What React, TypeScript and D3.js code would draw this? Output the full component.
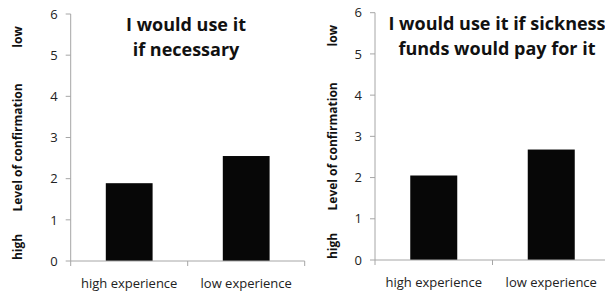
import React from "react";
import * as d3 from "d3";

const categories = ["high experience", "low experience"];
const necessaryValues = [1.89, 2.55];
const sicknessValues = [2.05, 2.68];
const yTicks = [0, 1, 2, 3, 4, 5, 6];
const titleNecessary = ["I would use it", "if necessary"];
const titleSickness = ["I would use it if sickness", "funds would pay for it"];

const FONT = "'Open Sans', 'Liberation Sans', sans-serif";

type PanelProps = {
  values: number[];
  title: string[];
  x0: number;
  x1: number;
  yBottom: number;
  yTop: number;
  labelX: number;
  titleX: number;
};

function Panel({ values, title, x0, x1, yBottom, yTop, labelX, titleX }: PanelProps) {
  const y = d3.scaleLinear().domain([0, 6]).range([yBottom, yTop]);
  const x = d3.scaleBand<string>().domain(categories).range([x0, x1]).paddingInner(0.6).paddingOuter(0.3);
  const axisColor = "#a6a6a6";
  const band = (x1 - x0) / categories.length;
  return (
    <g>
      {categories.map((c, i) => (
        <rect key={c} x={x(c)} y={y(values[i])} width={x.bandwidth()} height={y(0) - y(values[i])} fill="#070707" />
      ))}
      <line x1={x0} x2={x0} y1={y(0)} y2={y(6)} stroke={axisColor} strokeWidth={1} />
      <line x1={x0} x2={x1} y1={y(0)} y2={y(0)} stroke={axisColor} strokeWidth={1} />
      {yTicks.map((t) => (
        <g key={t}>
          <line x1={x0 - 5} x2={x0} y1={y(t)} y2={y(t)} stroke={axisColor} />
          <text x={x0 - 13} y={y(t)} dy="0.36em" textAnchor="end" fontSize={13} fill="#222" fontFamily={FONT}>
            {t}
          </text>
        </g>
      ))}
      {[0, 1, 2].map((k) => (
        <line key={k} x1={x0 + k * band} x2={x0 + k * band} y1={y(0)} y2={y(0) + 5} stroke={axisColor} />
      ))}
      {categories.map((c) => (
        <text key={c} x={(x(c) as number) + x.bandwidth() / 2} y={yBottom + 27} textAnchor="middle" fontSize={13} fill="#222" fontFamily={FONT}>
          {c}
        </text>
      ))}
      <g transform={`translate(${labelX},0) rotate(-90)`}>
        <text x={-(yTop + 23)} y={0} dy="0.35em" textAnchor="middle" fontSize={12} fontWeight="bold" fill="#111" fontFamily={FONT}>low</text>
        <text x={-(yBottom + yTop) / 2 - 10} y={0} dy="0.35em" textAnchor="middle" fontSize={12} fontWeight="bold" fill="#111" fontFamily={FONT}>Level of confirmation</text>
        <text x={-(yBottom - 14)} y={0} dy="0.35em" textAnchor="middle" fontSize={12} fontWeight="bold" fill="#111" fontFamily={FONT}>high</text>
      </g>
      {title.map((t, i) => (
        <text key={i} x={titleX} y={yTop + 17 + i * 25} textAnchor="middle" fontSize={18} fontWeight="bold" fill="#111" fontFamily={FONT}>
          {t}
        </text>
      ))}
    </g>
  );
}

export default function App() {
  return (
    <svg width={605} height={293} style={{ position: "absolute", left: 0, top: 0, background: "#fff" }}>
      <rect width={605} height={293} fill="#fff" />
      <Panel values={necessaryValues} title={titleNecessary} x0={70.7} x1={304.7} yBottom={261} yTop={14} labelX={18} titleX={186} />
      <Panel values={sicknessValues} title={titleSickness} x0={375} x1={610} yBottom={260} yTop={12.7} labelX={333} titleX={497} />
    </svg>
  );
}
